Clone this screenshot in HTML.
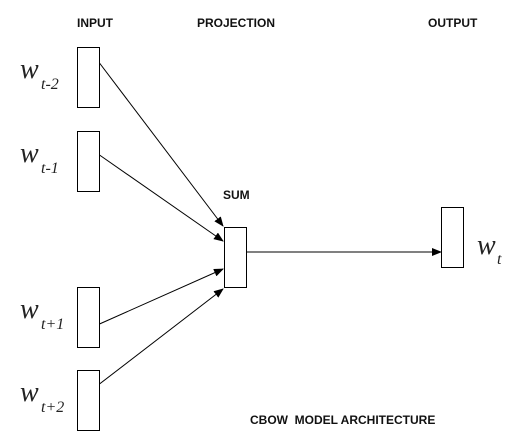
<!DOCTYPE html>
<html><head><style>
body{margin:0;background:#fff;}
svg{display:block;}
.h{font-family:"Liberation Sans",sans-serif;font-weight:bold;font-size:12px;fill:#111;}
.w{font-family:"Liberation Serif",serif;font-style:italic;font-size:28px;fill:#222;}
.s{font-family:"Liberation Serif",serif;font-style:italic;font-size:16px;fill:#222;}
</style></head><body>
<svg width="512" height="446" viewBox="0 0 512 446" xmlns="http://www.w3.org/2000/svg">
<defs><marker id="a" markerWidth="10" markerHeight="8" refX="9" refY="4" orient="auto" markerUnits="userSpaceOnUse"><path d="M0,0 L10,4 L0,8 z" fill="#000"/></marker></defs>
<text class="h" x="77" y="27">INPUT</text>
<text class="h" x="197" y="27">PROJECTION</text>
<text class="h" x="428" y="27">OUTPUT</text>
<text class="h" x="223" y="199">SUM</text>
<text class="h" x="250" y="424">CBOW&#160; MODEL ARCHITECTURE</text>
<g fill="#fff" stroke="#000" stroke-width="1">
<rect x="77.5" y="47.5" width="22" height="60"/>
<rect x="77.5" y="131.5" width="22" height="60"/>
<rect x="77.5" y="287.5" width="22" height="60"/>
<rect x="77.5" y="370.5" width="22" height="60"/>
<rect x="224.5" y="227.5" width="22" height="60"/>
<rect x="441.5" y="207.5" width="22" height="60"/>
</g>
<g stroke="#000" stroke-width="1" marker-end="url(#a)">
<line x1="99.5" y1="63" x2="223" y2="226"/>
<line x1="99.5" y1="155" x2="223" y2="241"/>
<line x1="99.5" y1="324" x2="223" y2="269"/>
<line x1="99.5" y1="384" x2="223" y2="289"/>
<line x1="246.5" y1="252" x2="441" y2="252"/>
</g>
<text class="w" x="20" y="78">w</text><text class="s" x="41" y="89">t-2</text>
<text class="w" x="20" y="162">w</text><text class="s" x="41" y="173">t-1</text>
<text class="w" x="20" y="318">w</text><text class="s" x="41" y="329">t+1</text>
<text class="w" x="20" y="401">w</text><text class="s" x="41" y="412">t+2</text>
<text class="w" x="477" y="254">w</text><text class="s" x="497" y="264">t</text>
</svg>
</body></html>
